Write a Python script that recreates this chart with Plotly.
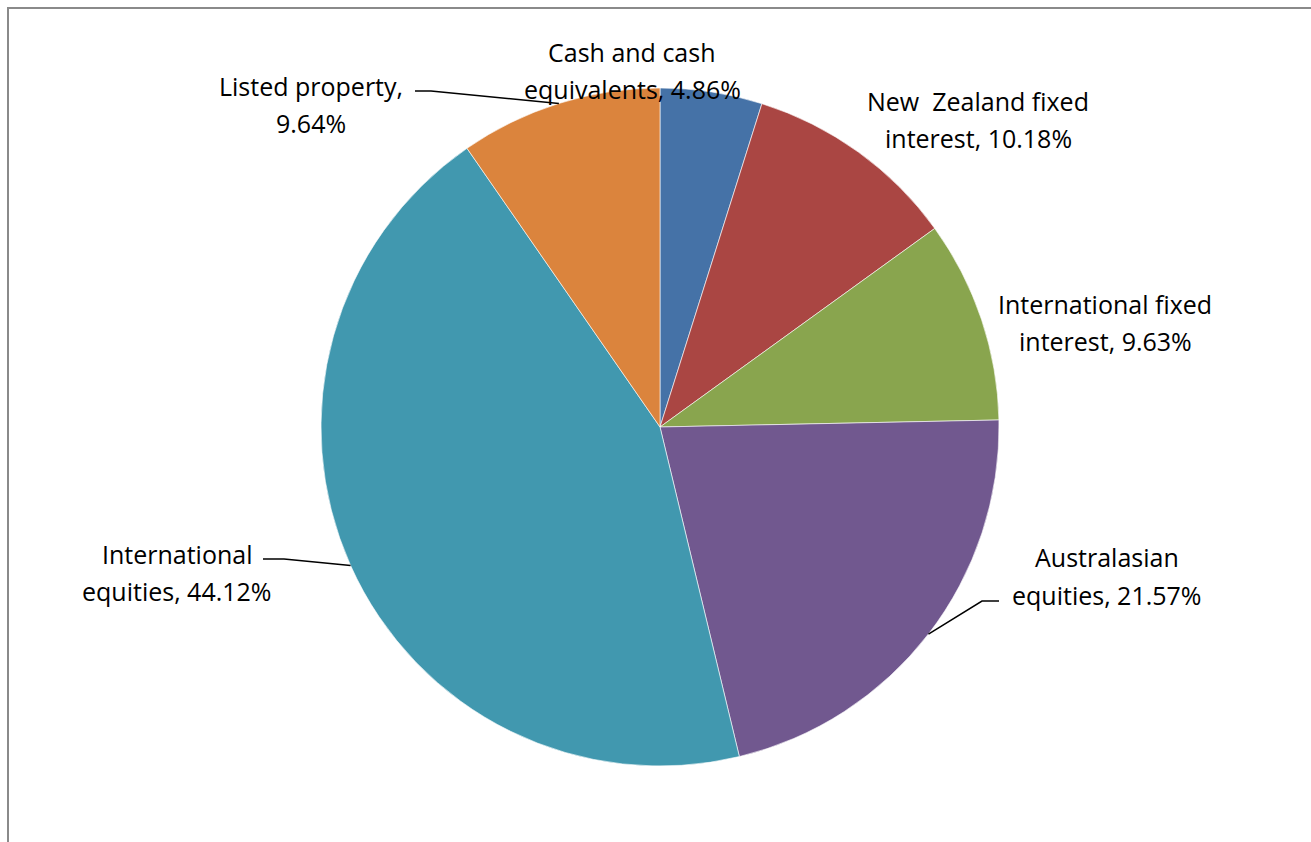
import math
import plotly.graph_objects as go

# ---- data ----
categories = ["Cash and cash equivalents", "New Zealand fixed interest",
              "International fixed interest", "Australasian equities",
              "International equities", "Listed property"]
label_lines = [["Cash and cash", "equivalents, 4.86%"],
               ["New  Zealand fixed", "interest, 10.18%"],
               ["International fixed", "interest, 9.63%"],
               ["Australasian", "equities, 21.57%"],
               ["International", "equities, 44.12%"],
               ["Listed property,", "9.64%"]]
values = [4.86, 10.18, 9.63, 21.57, 44.12, 9.64]
colors = ["#4572A7", "#AA4643", "#89A54E", "#71588F", "#4198AF", "#DB843D"]

W, H = 1311, 842
CX, CY, R = 660, 427, 339

# label line centres (pixels): x, y of first line, y of second line
label_pos = [(632, 52, 89), (978, 101, 138), (1105, 304, 341),
             (1107, 557, 595), (177, 554, 591), (311, 86, 123)]
# leader lines: start x, y, elbow x (end point is on the pie edge at slice middle)
leader = [None, None, None, (999, 601, 982), (263, 559, 284), (415, 91, 431)]

FONT = "Open Sans, Lato, sans-serif"

def px(x):
    return x / W

def py(y):
    return 1 - y / H

fig = go.Figure(go.Pie(
    labels=categories, values=values, sort=False, direction="clockwise",
    rotation=0, textinfo="none", hoverinfo="label+percent",
    marker=dict(colors=colors, line=dict(color="white", width=0.6)),
    domain=dict(x=[px(CX - R), px(CX + R)], y=[py(CY + R), py(CY - R)]),
    showlegend=False,
))

annotations = []
for (lx, y1, y2), lines in zip(label_pos, label_lines):
    for yy, txt in zip((y1, y2), lines):
        annotations.append(dict(
            x=px(lx), y=py(yy), xref="paper", yref="paper", showarrow=False,
            xanchor="center", yanchor="middle", text=txt,
            font=dict(family=FONT, size=25, color="black")))

shapes = []
# frame
shapes.append(dict(type="rect", xref="paper", yref="paper",
                   x0=px(8), x1=1.02, y0=-0.02, y1=py(8),
                   line=dict(color="#8a8a8a", width=2)))
total = sum(values)
cum = 0
for v, ld in zip(values, leader):
    mid = (cum + v / 2) / total * 2 * math.pi
    cum += v
    if ld is None:
        continue
    ex = CX + R * math.sin(mid)
    ey = CY - R * math.cos(mid)
    sx, sy, kx = ld
    path = f"M {px(sx)} {py(sy)} L {px(kx)} {py(sy)} L {px(ex)} {py(ey)}"
    shapes.append(dict(type="path", xref="paper", yref="paper", path=path,
                       line=dict(color="black", width=1.5)))

fig.update_layout(
    width=W, height=H, margin=dict(l=0, r=0, t=0, b=0),
    paper_bgcolor="white", plot_bgcolor="white",
    annotations=annotations, shapes=shapes,
)
fig.write_html("out.html")
